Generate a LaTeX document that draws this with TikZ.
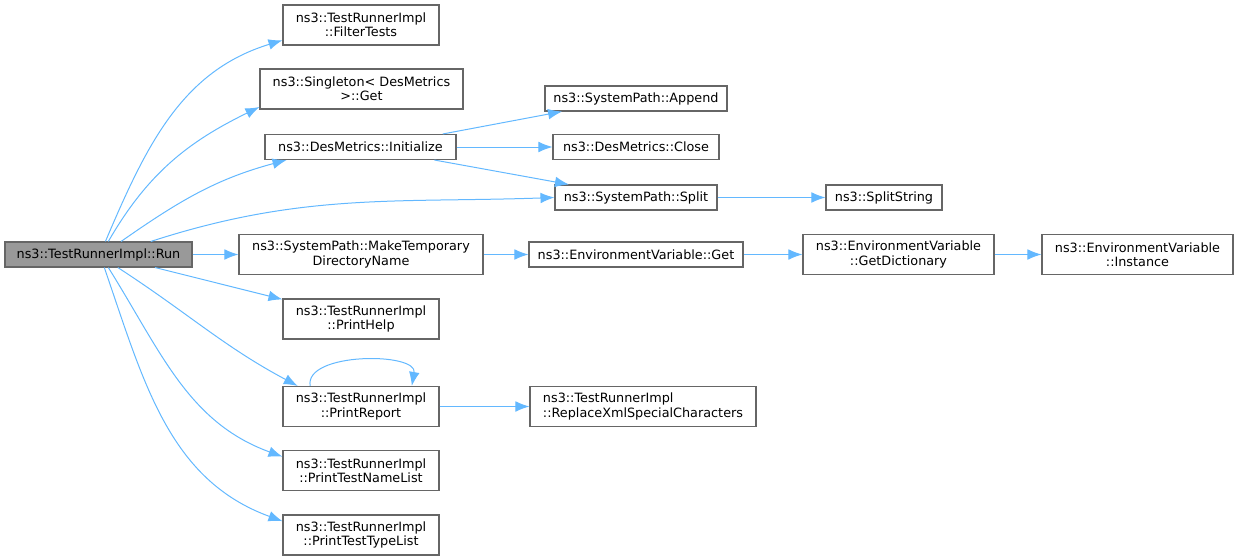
\documentclass[tikz,border=0pt]{standalone}
\usepackage{fontspec}
\setmainfont{DejaVu Sans}
\usetikzlibrary{arrows.meta}

\definecolor{edgeblue}{HTML}{63B8FF}
\definecolor{boxline}{HTML}{666666}
\definecolor{rootfill}{HTML}{999999}

\tikzset{
	fn/.style = {draw = boxline, fill = white, line width = 0.8pt, inner sep = 0pt, align = center, minimum height = 18.75pt, font = \fontsize{9.6}{10.6}\selectfont},
	two/.style = {minimum height = 30pt},
	call/.style = {->, edgeblue, line width = 0.75pt}
}

\begin{document}
\begin{tikzpicture}[> = {Latex[length = 10.5pt, width = 8pt]}, x = 0.75pt, y = -0.75pt]

	\useasboundingbox (0, 0) rectangle (1239, 560);

	% Functions
	
	\node [fn, fill = rootfill, minimum width = 140.25pt] (run) at (98.5, 254.5) {ns3::TestRunnerImpl::Run};
	\node [fn, two, minimum width = 117pt] (filter) at (361, 25) {ns3::TestRunnerImpl\\::FilterTests};
	\node [fn, two, minimum width = 152.25pt] (single) at (361.5, 89) {ns3::Singleton< DesMetrics\\>::Get};
	\node [fn, minimum width = 143.25pt] (init) at (360.5, 147) {ns3::DesMetrics::Initialize};
	\node [fn, two, minimum width = 183pt] (maketmp) at (361, 254.5) {ns3::SystemPath::MakeTemporary\\DirectoryName};
	\node [fn, two, minimum width = 117pt] (help) at (361, 319) {ns3::TestRunnerImpl\\::PrintHelp};
	\node [fn, two, minimum width = 117pt] (report) at (361, 406.5) {ns3::TestRunnerImpl\\::PrintReport};
	\node [fn, two, minimum width = 117pt] (namelist) at (361, 470.5) {ns3::TestRunnerImpl\\::PrintTestNameList};
	\node [fn, two, minimum width = 117pt] (typelist) at (361, 535) {ns3::TestRunnerImpl\\::PrintTestTypeList};
	
	\node [fn, minimum width = 136.5pt] (append) at (636, 98.5) {ns3::SystemPath::Append};
	\node [fn, minimum width = 124.5pt] (close) at (636, 147) {ns3::DesMetrics::Close};
	\node [fn, minimum width = 121.5pt] (split) at (636, 197.5) {ns3::SystemPath::Split};
	\node [fn, minimum width = 160.5pt] (envget) at (636, 254.5) {ns3::EnvironmentVariable::Get};
	\node [fn, two, minimum width = 169.5pt, align = left] (replace) at (643, 406.5) {ns3::TestRunnerImpl\\::ReplaceXmlSpecialCharacters};
	
	\node [fn, minimum width = 87pt] (splitstr) at (884, 197.5) {ns3::SplitString};
	\node [fn, two, minimum width = 143.25pt] (getdict) at (898.5, 254.5) {ns3::EnvironmentVariable\\::GetDictionary};
	\node [fn, two, minimum width = 143.25pt] (instance) at (1137.5, 254.5) {ns3::EnvironmentVariable\\::Instance};
	
	% Calls from Run
	
	\draw [call] (run.62) to [out = 67, in = 197] (filter.191);
	\draw [call] (run.53) to [out = 60, in = 206] (single.190);
	\draw [call] (run.30) to [out = 35, in = 195] (init.190);
	\draw [call] (run.14) to [out = 18, in = 182] (split.west);
	\draw [call] (run.east) -- (maketmp.west);
	\draw [call] (run.-13) -- (help.166);
	\draw [call] (run.-34) to [out = -33, in = 152] (report.162);
	\draw [call] (run.-53) to [out = -58, in = 160] (namelist.170);
	\draw [call] (run.-66) to [out = -71, in = 160] (typelist.170);
	
	% Further calls
	
	\draw [call] (init.9) -- (append.190);
	\draw [call] (init.east) -- (close.west);
	\draw [call] (init.350) -- (split.169);
	\draw [call] (split.east) -- (splitstr.west);
	\draw [call] (maketmp.east) -- (envget.west);
	\draw [call] (envget.east) -- (getdict.west);
	\draw [call] (getdict.east) -- (instance.west);
	\draw [call] (report.158) .. controls +(-6, -34) and +(6, -34) .. (report.22);
	\draw [call] (report.east) -- (replace.west);
	
\end{tikzpicture}
\end{document}
